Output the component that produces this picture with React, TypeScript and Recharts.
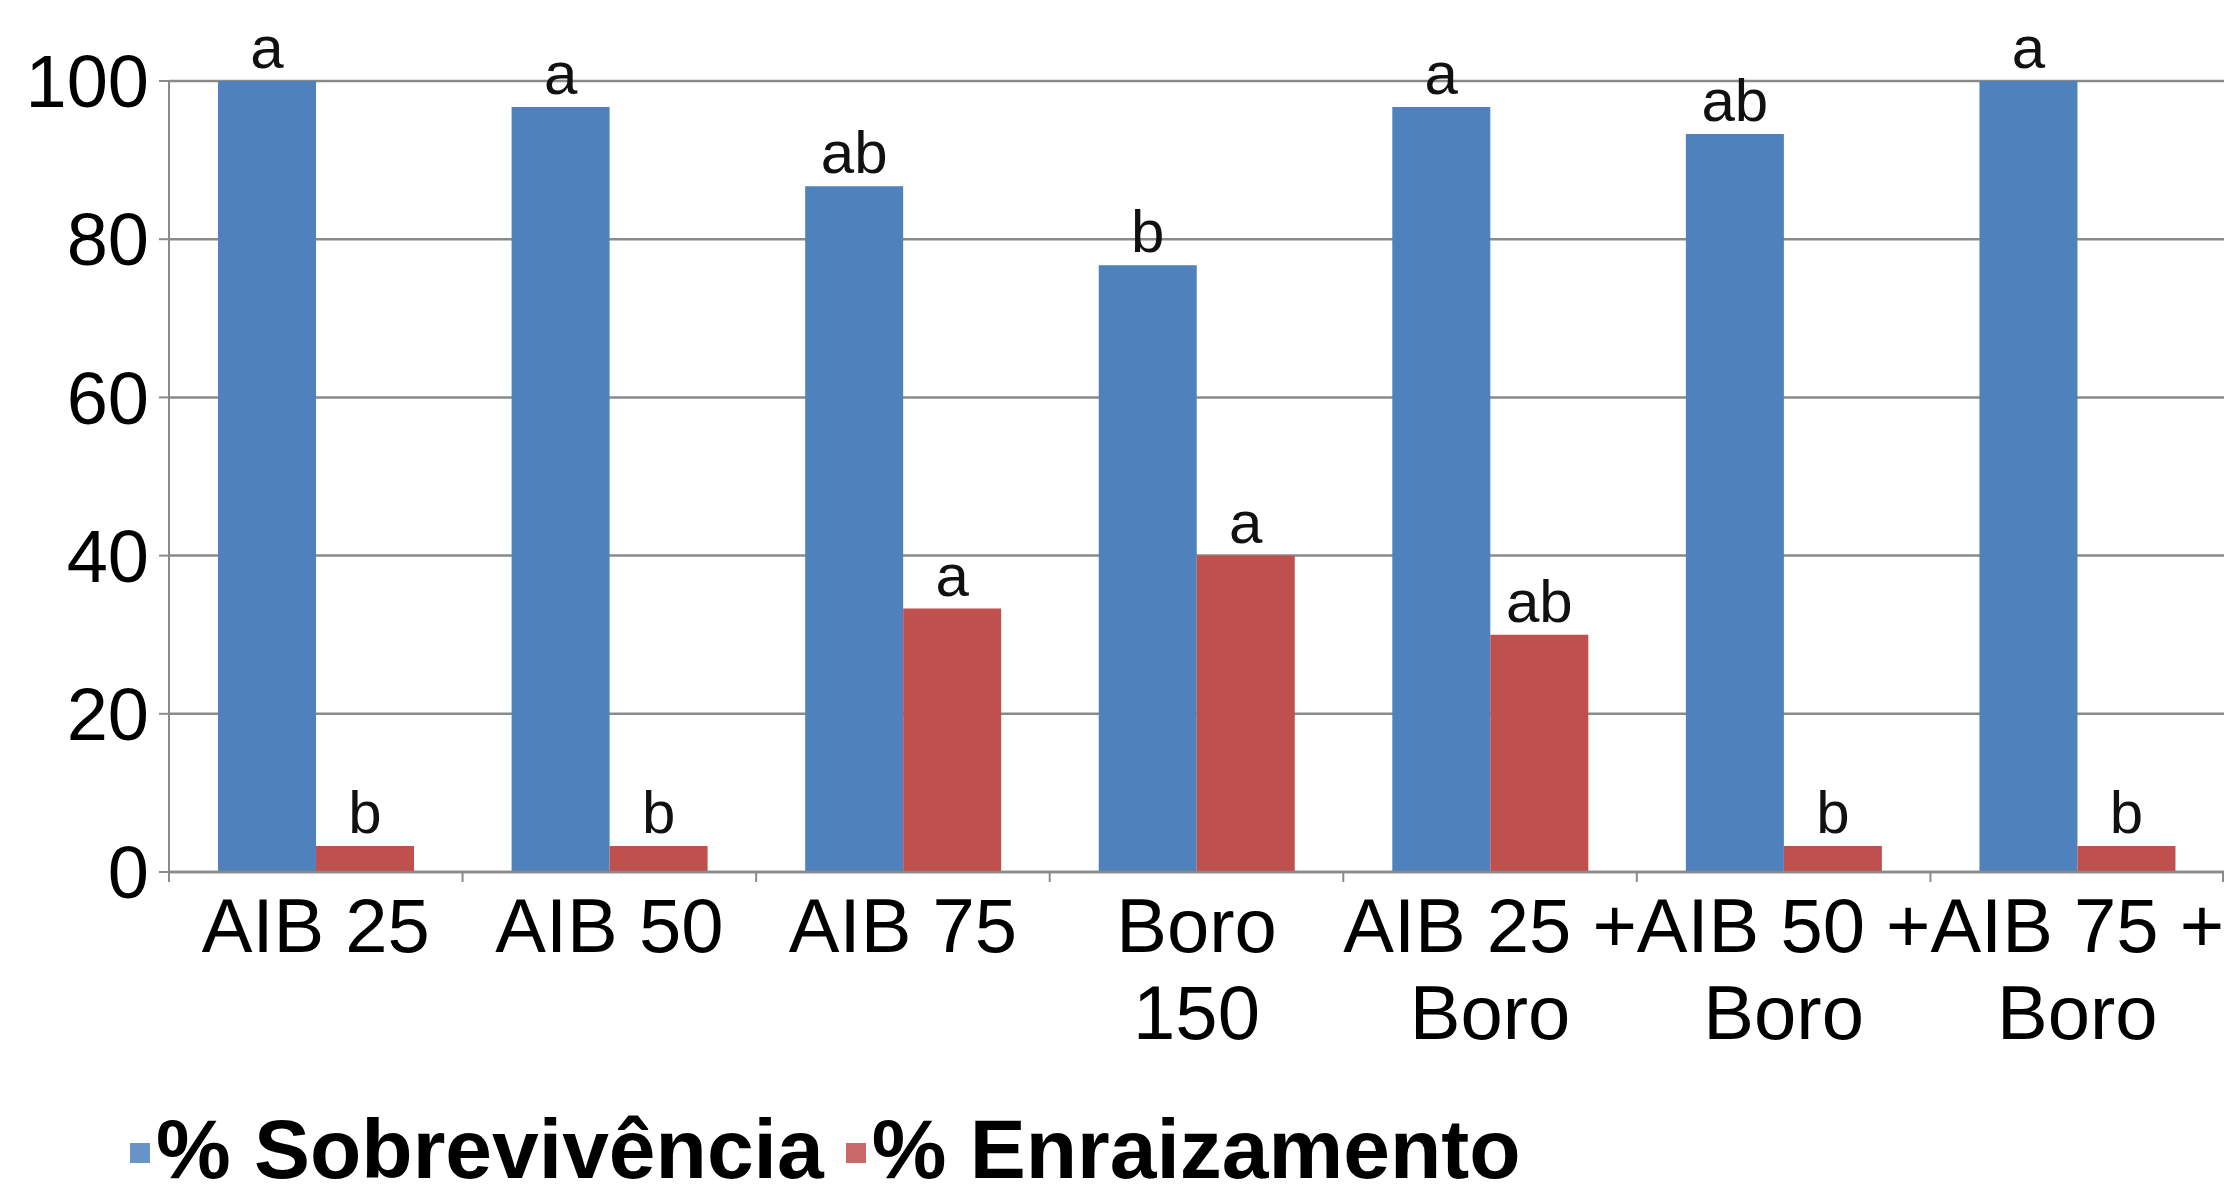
import React from 'react';
import { BarChart, Bar, XAxis, YAxis, CartesianGrid, LabelList, Legend } from 'recharts';

const categories = ['AIB 25', 'AIB 50', 'AIB 75', 'Boro 150', 'AIB 25 + Boro', 'AIB 50 + Boro', 'AIB 75 + Boro'];
const tickLines = [['AIB 25'], ['AIB 50'], ['AIB 75'], ['Boro', '150'], ['AIB 25 +', 'Boro'], ['AIB 50 +', 'Boro'], ['AIB 75 +', 'Boro']];
const sobrevivencia = [100, 96.7, 86.7, 76.7, 96.7, 93.3, 100];
const enraizamento = [3.3, 3.3, 33.3, 40, 30, 3.3, 3.3];
const sobrevivenciaLetters = ['a', 'a', 'ab', 'b', 'a', 'ab', 'a'];
const enraizamentoLetters = ['b', 'b', 'a', 'a', 'ab', 'b', 'b'];
const yTicks = [0, 20, 40, 60, 80, 100];
const seriesNames = ['% Sobrevivência', '% Enraizamento'];

const BLUE = '#4F81BD';
const RED = '#C0504D';
const GRID = '#8a8a8a';
const FONT = '"Liberation Sans", Arial, sans-serif';

const W = 2224;
const H = 1199;
const Y_AXIS_W = 169;
const BAND = (W - Y_AXIS_W) / categories.length;
const X_TICK_SIZE = 10;
const X_TICK_MARGIN = 16;
const LEGEND_H = 120;

const data = categories.map((c, i) => ({
  name: c,
  s: sobrevivencia[i],
  e: enraizamento[i],
  sl: sobrevivenciaLetters[i],
  el: enraizamentoLetters[i],
}));

const XTick = (props: any) => {
  const { x, y, payload } = props;
  const idx = categories.indexOf(payload.value);
  const lines = idx >= 0 ? tickLines[idx] : [String(payload.value)];
  const axisY = y - X_TICK_SIZE - X_TICK_MARGIN;
  const left = x - BAND / 2;
  const right = x + BAND / 2;
  return (
    <g>
      <line x1={left} x2={left} y1={axisY} y2={axisY + X_TICK_SIZE} stroke={GRID} strokeWidth={2} />
      {idx === categories.length - 1 && (
        <line x1={right - 1} x2={right - 1} y1={axisY} y2={axisY + X_TICK_SIZE} stroke={GRID} strokeWidth={2} />
      )}
      <text x={x} y={y} textAnchor="middle" fontSize={76} fontFamily={FONT} fill="#000">
        {lines.map((l, i) => (
          <tspan key={i} x={x} dy={i === 0 ? '0.71em' : '1.14em'}>
            {l}
          </tspan>
        ))}
      </text>
    </g>
  );
};

const LegendContent = () => {
  const colors = [BLUE, RED];
  return (
    <div
      style={{
        height: LEGEND_H,
        width: W,
        display: 'flex',
        alignItems: 'flex-end',
        paddingLeft: 130,
        paddingBottom: 8,
        boxSizing: 'border-box',
        fontFamily: FONT,
        fontWeight: 'bold',
        fontSize: 84,
        color: '#000',
        whiteSpace: 'nowrap',
      }}
    >
      {seriesNames.map((n, i) => (
        <div key={n} style={{ display: 'flex', alignItems: 'center', marginRight: 22, height: 84 }}>
          <span style={{ display: 'inline-block', width: 20, height: 20, background: colors[i], marginRight: 6, marginTop: 8, opacity: 0.85 }} />
          <span style={{ lineHeight: '84px' }}>{n}</span>
        </div>
      ))}
    </div>
  );
};

export default function App() {
  return (
    <div style={{ position: 'absolute', left: 0, top: 0, width: W, height: H, background: '#fff' }}>
      <BarChart
        width={W}
        height={H}
        data={data}
        margin={{ top: 81, right: 0, left: 0, bottom: 0 }}
        barCategoryGap="16.7%"
        barGap={0}
      >
        <CartesianGrid vertical={false} stroke={GRID} strokeWidth={2.5} />
        <XAxis
          dataKey="name"
          interval={0}
          height={327 - LEGEND_H}
          tickSize={X_TICK_SIZE}
          tickMargin={X_TICK_MARGIN}
          tickLine={false}
          axisLine={{ stroke: GRID, strokeWidth: 2.5 }}
          tick={<XTick />}
        />
        <YAxis
          width={Y_AXIS_W}
          domain={[0, 100]}
          ticks={yTicks}
          interval={0}
          tickSize={10}
          tickMargin={10}
          axisLine={{ stroke: GRID, strokeWidth: 2 }}
          tickLine={{ stroke: GRID, strokeWidth: 2 }}
          tick={{ fontSize: 74, fontFamily: FONT, fill: '#000' }}
        />
        <Legend
          verticalAlign="bottom"
          content={<LegendContent />}
          wrapperStyle={{ left: 0, width: W, height: LEGEND_H }}
        />
        <Bar dataKey="s" name={seriesNames[0]} fill={BLUE} isAnimationActive={false}>
          <LabelList dataKey="sl" position="top" offset={13} fontSize={60} fontFamily={FONT} fill="#111" />
        </Bar>
        <Bar dataKey="e" name={seriesNames[1]} fill={RED} isAnimationActive={false}>
          <LabelList dataKey="el" position="top" offset={13} fontSize={60} fontFamily={FONT} fill="#111" />
        </Bar>
      </BarChart>
    </div>
  );
}
